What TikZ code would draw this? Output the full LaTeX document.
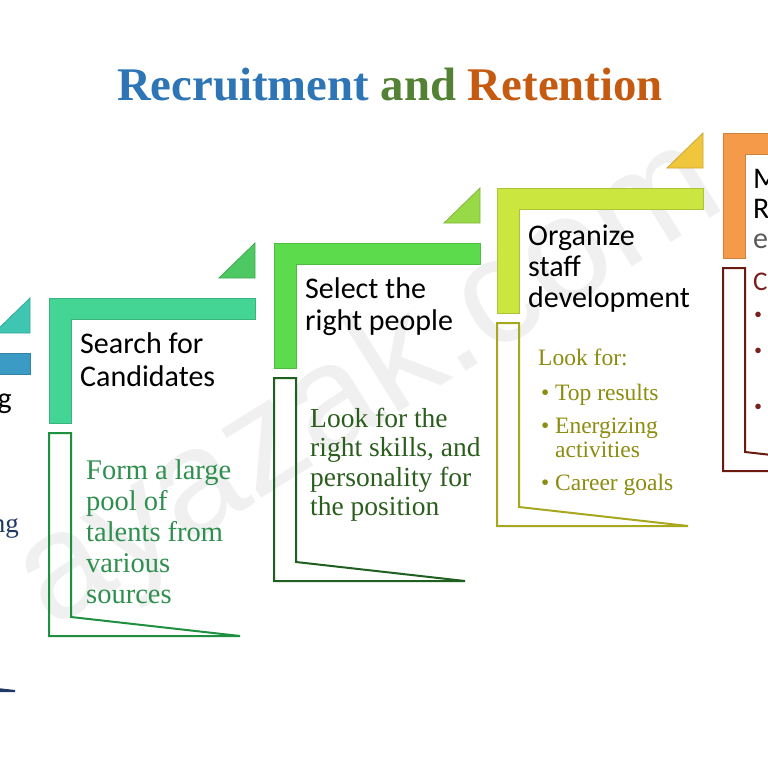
\documentclass[tikz,border=0pt]{standalone}
\usepackage{fontspec}
\setmainfont{Liberation Serif}
\newfontfamily\calib{Carlito}
\newfontfamily\wmfont{Liberation Sans}
\definecolor{tblue}{HTML}{2E75B6}
\definecolor{tgreen}{HTML}{548235}
\definecolor{torange}{HTML}{C55A11}
\definecolor{barA}{HTML}{3C9BC4}
\definecolor{barB}{HTML}{44D494}
\definecolor{barC}{HTML}{5CDC4C}
\definecolor{barD}{HTML}{CCE640}
\definecolor{barE}{HTML}{F59A48}
\definecolor{triA}{HTML}{3FC6B2}
\definecolor{triB}{HTML}{4DC862}
\definecolor{triC}{HTML}{97D946}
\definecolor{triD}{HTML}{EFC63C}
\definecolor{lnA}{HTML}{203864}
\definecolor{lnB}{HTML}{1E9040}
\definecolor{lnC}{HTML}{1F5F1F}
\definecolor{lnD}{HTML}{A8A820}
\definecolor{lnE}{HTML}{6B1A10}
\definecolor{txB}{HTML}{2F8F4F}
\definecolor{txC}{HTML}{2B5E1E}
\definecolor{txD}{HTML}{8C8C10}
\definecolor{txE}{HTML}{7B1E1E}
\newcommand{\stairstep}[5]{%
  % #1 left, #2 top, #3 bar colour, #4 outline colour, #5 triangle colour
  \filldraw[fill=#3, draw=#3!85!black, line width=0.8pt]
    (#1,#2) -- ({#1+206},#2) -- ({#1+206},{#2+21}) -- ({#1+22},{#2+21})
    -- ({#1+22},{#2+125}) -- (#1,{#2+125}) -- cycle;
  \filldraw[fill=#5, draw=#5!85!black, line width=0.8pt]
    ({#1+170},{#2-20}) -- ({#1+206},{#2-20}) -- ({#1+206},{#2-55}) -- cycle;
  \draw[draw=#4, line width=2pt, line join=miter]
    (#1,{#2+135}) -- ({#1+22},{#2+135}) -- ({#1+22},{#2+319})
    -- ({#1+191},{#2+338}) -- (#1,{#2+338}) -- cycle;
}
% multi-line nodes are placed by the baseline of their LAST line
\tikzset{
  head/.style={anchor=base west, inner sep=0pt, align=left, text=black,
    font=\calib\fontsize{30}{33}\selectfont},
  body/.style={anchor=base west, inner sep=0pt, align=left},
}
\newcommand{\bul}{\makebox[17pt][l]{\hspace{3pt}\textbullet}}
\begin{document}
\begin{tikzpicture}[x=1pt,y=-1pt]
\useasboundingbox (0,0) rectangle (768,768);
\clip (0,0) rectangle (768,768);
\fill[white] (0,0) rectangle (768,768);

% watermark
\node[rotate=32, text=black!6, font=\wmfont\fontsize{150}{150}\selectfont] (wm) at (370,385) {ayazak.com};

% title
\node[anchor=base, inner sep=0pt, font=\bfseries\fontsize{46.8}{50}\selectfont] (title) at (390,100)
  {\textcolor{tblue}{Recruitment} \textcolor{tgreen}{and} \textcolor{torange}{Retention}};

% steps
\stairstep{-176}{353}{barA}{lnA}{triA}
\stairstep{49}{298}{barB}{lnB}{triB}
\stairstep{274}{243}{barC}{lnC}{triC}
\stairstep{497}{188}{barD}{lnD}{triD}
\stairstep{723}{133}{barE}{lnE}{triD}

% step 1 (cut off)
\node[anchor=base east, inner sep=0pt, font=\calib\fontsize{30}{33}\selectfont] (s1h) at (12,408) {g};
\node[anchor=base east, inner sep=0pt, text=lnA, font=\fontsize{27}{30}\selectfont] (s1b) at (19,532) {ng};

% step 2
\node[head] (s2h) at (80,386) {Search for\\Candidates};
\node[body, text=txB, font=\fontsize{28.5}{31}\selectfont] (s2b) at (86,603)
  {Form a large\\pool of\\talents from\\various\\sources};

% step 3
\node[head, font=\calib\fontsize{30}{32}\selectfont] (s3h) at (305,330) {Select the\\right people};
\node[body, text=txC, font=\fontsize{27.5}{29.5}\selectfont] (s3b) at (310,515.5)
  {Look for the\\right skills, and\\personality for\\the position};

% step 4
\node[head, font=\calib\fontsize{30}{31}\selectfont] (s4h) at (528,307) {Organize\\staff\\development};
\node[body, text=txD, font=\fontsize{23.5}{24}\selectfont] (s4b) at (538,490)
  {Look for:\\[11pt]
   \bul Top results\\[9pt]
   \bul Energizing\\
   \makebox[17pt][l]{}activities\\[9pt]
   \bul Career goals};

% step 5 (cut off)
\node[head, font=\calib\fontsize{30}{30}\selectfont] (s5h) at (753,248) {M\\R\\\textcolor{black!65}{e}};
\node[anchor=base west, inner sep=0pt, text=txE, font=\calib\fontsize{27}{30}\selectfont] (s5c) at (753,290) {C};
\node[anchor=base west, inner sep=0pt, text=txE, font=\fontsize{23}{24}\selectfont] (s5d1) at (754,322) {\textbullet};
\node[anchor=base west, inner sep=0pt, text=txE, font=\fontsize{23}{24}\selectfont] (s5d2) at (754,358) {\textbullet};
\node[anchor=base west, inner sep=0pt, text=txE, font=\fontsize{23}{24}\selectfont] (s5d3) at (754,414) {\textbullet};
\end{tikzpicture}
\end{document}
